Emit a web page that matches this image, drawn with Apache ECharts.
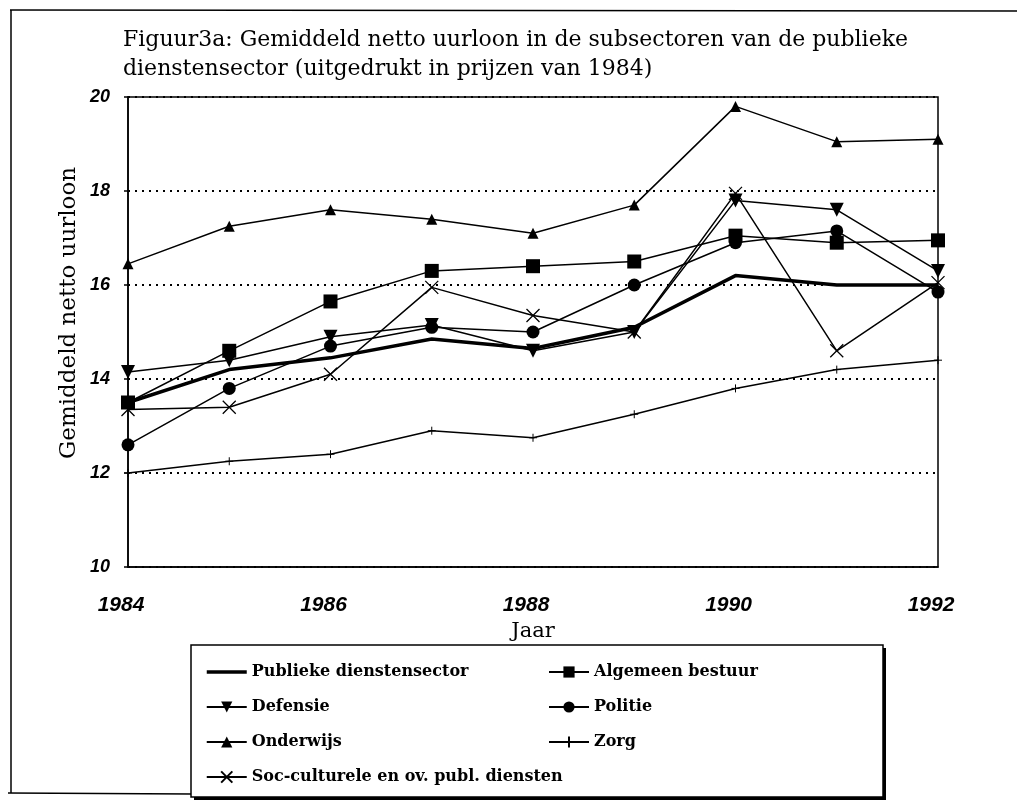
<!DOCTYPE html>
<html>
<head>
<meta charset="utf-8">
<script src="https://cdn.jsdelivr.net/npm/echarts@6/dist/echarts.min.js"></script>
<style>
html,body{margin:0;padding:0;background:#fff;}
#chart{width:1017px;height:809px;}
</style>
</head>
<body>
<div id="chart"></div>
<script>
// ---- data ----
const years = ['1984','1985','1986','1987','1988','1989','1990','1991','1992'];
const publiek   = [13.5, 14.2, 14.45, 14.85, 14.65, 15.1, 16.2, 16.0, 16.0];
const algemeen  = [13.5, 14.6, 15.65, 16.3, 16.4, 16.5, 17.05, 16.9, 16.95];
const defensie  = [14.15, 14.4, 14.9, 15.15, 14.6, 15.0, 17.8, 17.6, 16.3];
const politie   = [12.6, 13.8, 14.7, 15.1, 15.0, 16.0, 16.9, 17.15, 15.85];
const onderwijs = [16.45, 17.25, 17.6, 17.4, 17.1, 17.7, 19.8, 19.05, 19.1];
const zorg      = [12.0, 12.25, 12.4, 12.9, 12.75, 13.25, 13.8, 14.2, 14.4];
const soccult   = [13.35, 13.4, 14.1, 15.95, 15.35, 15.0, 17.95, 14.6, 16.05];
const names = ['Publieke dienstensector','Algemeen bestuur','Defensie','Politie','Onderwijs','Zorg','Soc-culturele en ov. publ. diensten'];
const titleText = 'Figuur3a: Gemiddeld netto uurloon in de subsectoren van de publieke\ndienstensector (uitgedrukt in prijzen van 1984)';
const yName = 'Gemiddeld netto uurloon';
const xName = 'Jaar';

const serif = 'DejaVu Serif';
const black = '#000';
const xPath = 'path://M0,0L10,10M10,0L0,10';
const plusPath = 'path://M5,0L5,10M0,5L10,5';

function mk(name, data, symbol, size, extra) {
  return Object.assign({
    name: name, type: 'line', data: data,
    symbol: symbol, symbolSize: size, showSymbol: symbol !== 'none',
    lineStyle: {color: black, width: 1.5},
    itemStyle: {color: black, borderColor: black, borderWidth: 0},
    emphasis: {disabled: true}
  }, extra || {});
}

const series = [
  mk(names[0], publiek, 'none', 0, {lineStyle: {color: black, width: 3.5}, z: 5}),
  mk(names[1], algemeen, 'rect', 14),
  mk(names[2], defensie, 'triangle', 14, {symbolRotate: 180}),
  mk(names[3], politie, 'circle', 13),
  mk(names[4], onderwijs, 'triangle', 11),
  mk(names[5], zorg, plusPath, 8, {itemStyle: {color: black, borderColor: black, borderWidth: 1}}),
  mk(names[6], soccult, xPath, 13, {itemStyle: {color: black, borderColor: black, borderWidth: 1.3}})
];

const legendText = {fontFamily: serif, fontWeight: 'bold', fontSize: 16, lineHeight: 20, color: black};
const hidden = 'rgba(0,0,0,0)';

const chart = echarts.init(document.getElementById('chart'), null, {renderer: 'canvas'});
chart.setOption({
  animation: false,
  backgroundColor: '#fff',
  title: {
    text: titleText, left: 118, top: 21,
    textStyle: {fontFamily: serif, fontSize: 22, fontWeight: 'normal', lineHeight: 29, color: black}
  },
  grid: {left: 128, right: 79, top: 97, bottom: 242, show: true, borderColor: black, borderWidth: 1.5, backgroundColor: 'transparent'},
  xAxis: {
    type: 'category', data: years, boundaryGap: false,
    name: xName, nameLocation: 'middle', nameGap: 52,
    nameTextStyle: {fontFamily: serif, fontSize: 21, color: black},
    axisLine: {lineStyle: {color: black, width: 1.5}},
    axisTick: {show: false},
    axisLabel: {interval: 1, margin: 28, padding: [0, 14, 0, 0], fontFamily: 'Liberation Sans', fontStyle: 'italic', fontWeight: 'bold', fontSize: 21, color: black},
    splitLine: {show: false}
  },
  yAxis: {
    type: 'value', min: 10, max: 20, interval: 2,
    axisLine: {show: true, lineStyle: {color: black, width: 1.5}},
    axisTick: {show: true, length: 4, lineStyle: {color: black, width: 1.5}},
    axisLabel: {margin: 18, fontFamily: 'Liberation Sans', fontStyle: 'italic', fontWeight: 'bold', fontSize: 18, color: black},
    splitLine: {show: true, lineStyle: {color: black, width: 2, type: [2, 5]}}
  },
  legend: [
    {data: [{name: names[0], itemStyle: {color: hidden, borderColor: hidden, borderWidth: 0}, lineStyle: {color: black, width: 3.5}}, names[2], names[4], names[6]],
     orient: 'vertical', left: 200, top: 657,
     itemWidth: 40, itemHeight: 14, itemGap: 15, selectedMode: false, textStyle: legendText, z: 20},
    {data: [names[1], names[3], names[5]], orient: 'vertical', left: 543, top: 657,
     itemWidth: 40, itemHeight: 14, itemGap: 15, selectedMode: false, textStyle: legendText, z: 20}
  ],
  graphic: [
    {type: 'line', shape: {x1: 10, y1: 10, x2: 1017, y2: 11}, style: {stroke: black, lineWidth: 1.5}, silent: true},
    {type: 'line', shape: {x1: 11, y1: 10, x2: 11, y2: 793}, style: {stroke: black, lineWidth: 1.5}, silent: true},
    {type: 'line', shape: {x1: 8, y1: 793, x2: 192, y2: 794}, style: {stroke: black, lineWidth: 1.5}, silent: true},
    {type: 'rect', shape: {x: 194, y: 648, width: 692, height: 152}, style: {fill: black}, z: 10, silent: true},
    {type: 'rect', shape: {x: 191, y: 645, width: 692, height: 152}, style: {fill: '#fff', stroke: black, lineWidth: 1.5}, z: 11, silent: true},
    {type: 'text', x: 69, y: 313, rotation: Math.PI / 2,
     style: {text: yName, fontFamily: serif, fontSize: 23, fill: black, textAlign: 'center', textVerticalAlign: 'middle'}, silent: true}
  ],
  series: series
});
</script>
</body>
</html>
